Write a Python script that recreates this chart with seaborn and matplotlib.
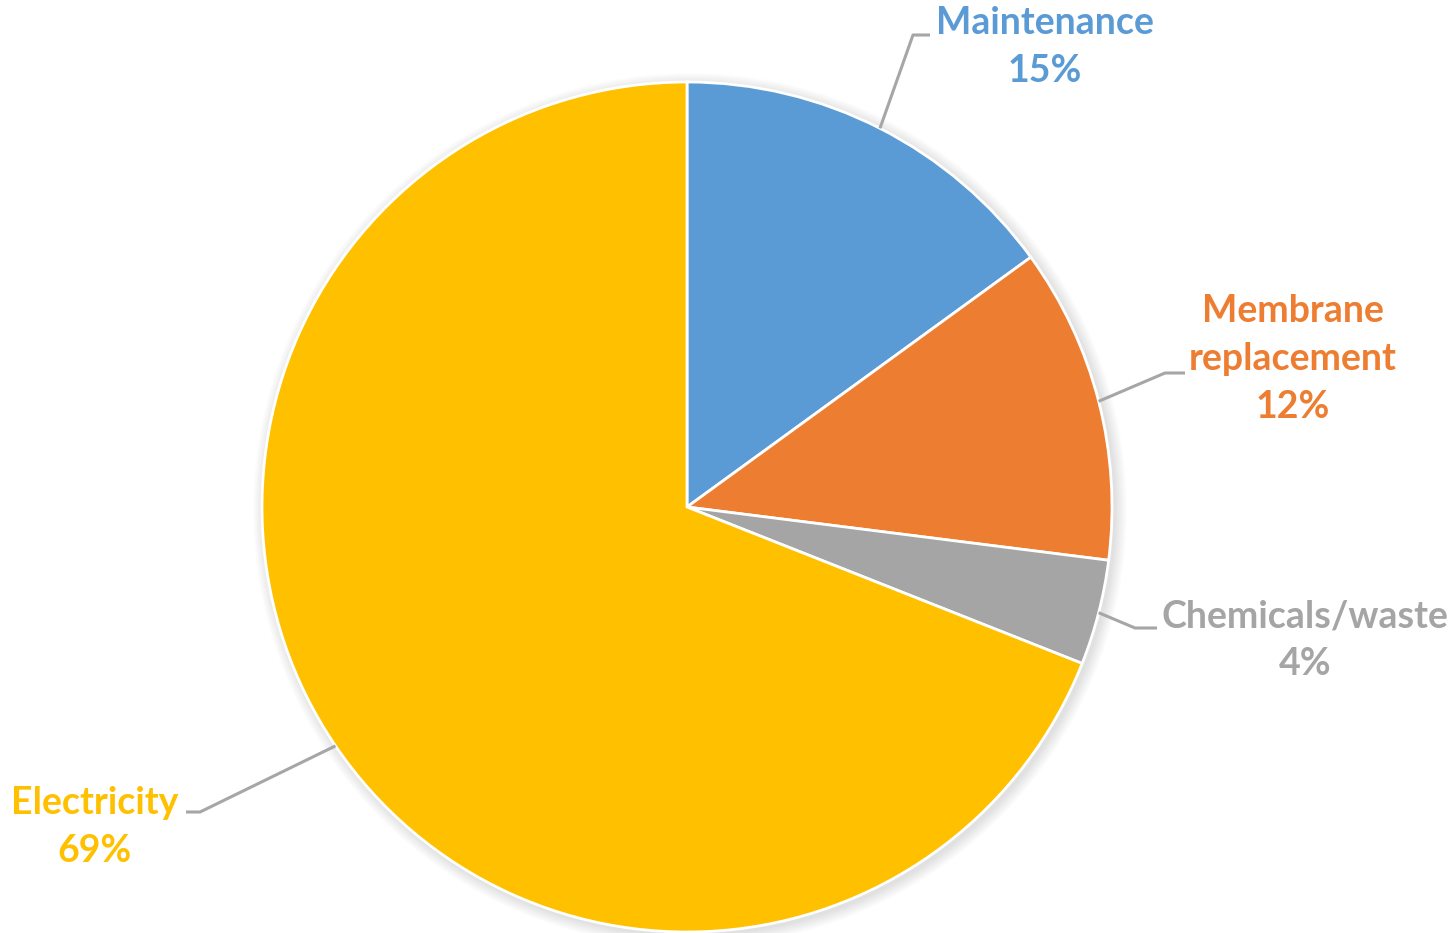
import numpy as np
import matplotlib
matplotlib.use("Agg")
import matplotlib.pyplot as plt
import seaborn as sns

# Operating cost breakdown
categories = ["Maintenance", "Membrane\nreplacement", "Chemicals/waste", "Electricity"]
shares = [15, 12, 4, 69]
slice_colors = ["#5B9BD5", "#ED7D31", "#A5A5A5", "#FFC000"]

sns.set_theme(style="white")
plt.rcParams["font.family"] = ["Lato", "DejaVu Sans"]

W, H = 1450, 933
fig = plt.figure(figsize=(W / 100, H / 100), dpi=100)
ax = fig.add_axes([0, 0, 1, 1])

cx, cy, r = 687, 426, 425
palette = sns.color_palette(slice_colors)

# soft drop shadow behind the pie
for k in range(10):
    shadow = plt.Circle((cx + 3, cy - 3), r + 1 + k * 1.2, color="black",
                        alpha=0.012, lw=0, zorder=0)
    ax.add_patch(shadow)

wedges, _ = ax.pie(shares, colors=palette, startangle=90, counterclock=False,
                   radius=r, center=(cx, cy), frame=True,
                   wedgeprops=dict(edgecolor="white", linewidth=2))
ax.set_xlim(0, W)
ax.set_ylim(0, H)
ax.set_aspect("equal")
ax.axis("off")

# label placement: (text x, text y of first line, elbow point, end of shelf)
label_layout = [
    dict(tx=1045, ty=910, elbow=(913, 898), end=(930, 898)),
    dict(tx=1293, ty=622, elbow=(1165, 560), end=(1185, 560)),
    dict(tx=1305, ty=317, elbow=(1135, 305), end=(1157, 305)),
    dict(tx=95, ty=130, elbow=(200, 121), end=(186, 121)),
]

line_step = 48
for w, name, val, col, lay in zip(wedges, categories, shares, slice_colors, label_layout):
    mid = np.deg2rad((w.theta1 + w.theta2) / 2)
    px, py = cx + r * np.cos(mid), cy + r * np.sin(mid)
    ex, ey = lay["elbow"]
    sx, sy = lay["end"]
    ax.plot([px, ex, sx], [py, ey, sy], color="#A6A6A6", lw=2.2,
            solid_capstyle="butt", zorder=3)
    lines = name.split("\n") + [f"{val}%"]
    for i, t in enumerate(lines):
        ax.text(lay["tx"], lay["ty"] - i * line_step, t, color=col,
                fontsize=27, fontweight="bold", ha="center", va="center",
                zorder=4)

fig.savefig("out.png", dpi=100, facecolor="white")
